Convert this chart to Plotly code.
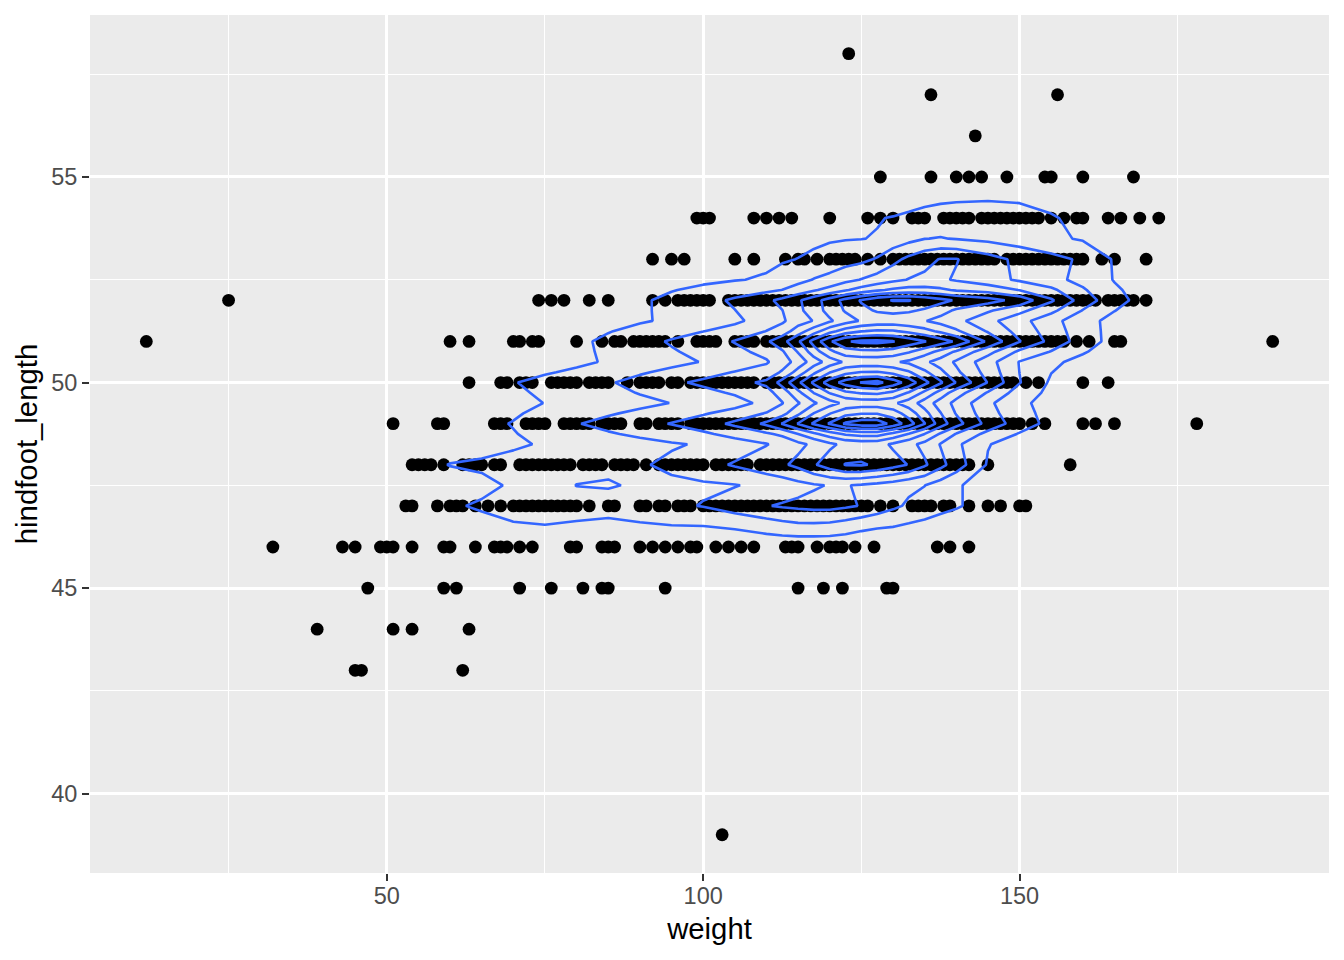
import plotly.graph_objects as go

# weights of the points, one list per hindfoot_length row
row_39 = [103]
row_43 = [45, 46, 62]
row_44 = [39, 51, 54, 63]
row_45 = [47, 59, 61, 71, 76, 81, 84, 85, 94, 115, 119, 122, 129, 130]
row_46 = [32, 43, 45, 49, 50, 51, 54, 59, 60, 64, 67, 68, 69, 71, 73, 79, 80, 84, 85, 86, 90, 92, 94, 96, 98, 99,
          102, 104, 106, 108, 113, 114, 115, 118, 120, 121, 122, 124, 127, 137, 139, 142]
row_47 = [53, 54, 58, 60, 61, 62, 64, 66, 68, 70, 71, 72, 73, 74, 75, 76, 77, 78, 79, 80, 82, 85, 86, 90, 91, 93, 94,
          96, 97, 98, 100, 101, 102, 103, 104, 105, 106, 107, 108, 109, 110, 111, 112, 113, 114, 115, 116, 117, 118,
          119, 120, 121, 122, 123, 124, 125, 126, 128, 130, 133, 134, 135, 136, 138, 139, 142, 145, 147, 150, 151]
row_48 = [54, 55, 56, 57, 59, 62, 63, 64, 65, 67, 68, 71, 72, 73, 74, 75, 76, 77, 78, 79, 81, 82, 83, 84, 86, 87, 88,
          89, 91, 93, 94, 95, 96, 97, 98, 99, 100, 102, 103, 104, 105, 106, 107, 109, 110, 111, 112, 113, 114, 115,
          116, 117, 118, 119, 120, 121, 122, 123, 124, 125, 126, 127, 128, 129, 130, 131, 132, 133, 134, 135, 136,
          137, 138, 139, 140, 141, 142, 145, 158]
row_49 = [51, 58, 59, 67, 68, 69, 72, 73, 74, 75, 78, 79, 80, 81, 82, 84, 85, 86, 87, 90, 91, 93, 94, 95, 96, 98, 99,
          100, 101, 102, 103, 104, 105, 106, 107, 108, 109, 110, 111, 112, 113, 114, 115, 116, 117, 118, 119, 120,
          121, 122, 123, 124, 125, 126, 127, 128, 129, 130, 131, 132, 133, 134, 135, 136, 137, 138, 139, 140, 141,
          142, 143, 144, 145, 146, 147, 148, 149, 150, 152, 154, 160, 162, 165, 178]
row_50 = [63, 68, 69, 71, 72, 73, 76, 77, 78, 79, 80, 82, 83, 84, 85, 88, 90, 91, 92, 93, 95, 96, 98, 99, 100, 101,
          102, 103, 104, 105, 106, 107, 108, 110, 111, 112, 113, 114, 115, 116, 117, 118, 119, 120, 121, 122, 123,
          124, 125, 126, 127, 128, 129, 130, 131, 132, 133, 134, 135, 136, 137, 138, 139, 140, 141, 142, 143, 144,
          145, 146, 147, 148, 149, 151, 153, 160, 164]
row_51 = [12, 60, 63, 70, 71, 73, 74, 80, 84, 86, 87, 89, 90, 91, 92, 93, 94, 96, 99, 100, 101, 102, 105, 106, 107,
          108, 110, 111, 112, 113, 114, 115, 116, 117, 118, 119, 120, 121, 122, 123, 124, 125, 126, 127, 128, 129,
          130, 131, 132, 133, 134, 135, 136, 137, 138, 139, 140, 141, 142, 143, 144, 145, 146, 147, 148, 149, 150,
          151, 152, 153, 154, 155, 156, 157, 159, 161, 165, 166, 190]
row_52 = [25, 74, 76, 78, 82, 85, 92, 94, 96, 97, 98, 99, 100, 101, 104, 105, 106, 107, 108, 109, 110, 111, 112, 113,
          114, 115, 116, 117, 118, 119, 120, 121, 122, 123, 124, 125, 126, 127, 128, 129, 130, 131, 132, 133, 134,
          135, 136, 137, 138, 139, 140, 141, 142, 143, 144, 145, 146, 147, 148, 149, 150, 151, 152, 153, 154, 155,
          156, 157, 158, 159, 160, 161, 162, 164, 165, 166, 167, 168, 170]
row_53 = [92, 95, 97, 105, 108, 113, 115, 116, 118, 120, 121, 122, 123, 124, 126, 128, 130, 131, 132, 133, 134, 135,
          136, 137, 138, 139, 140, 141, 142, 143, 144, 145, 146, 148, 149, 150, 151, 152, 153, 154, 155, 156, 157,
          158, 159, 160, 163, 165, 170]
row_54 = [99, 100, 101, 108, 110, 112, 114, 120, 126, 128, 130, 133, 134, 135, 138, 139, 140, 141, 142, 144, 145, 146,
          147, 148, 149, 150, 151, 152, 153, 155, 157, 159, 160, 164, 166, 169, 172]
row_55 = [128, 136, 140, 142, 144, 148, 154, 155, 160, 168]
row_56 = [143]
row_57 = [136, 156]
row_58 = [123]

hindfoot_rows = [39, 43, 44, 45, 46, 47, 48, 49, 50, 51, 52, 53, 54, 55, 56, 57, 58]
weights_by_row = [row_39, row_43, row_44, row_45, row_46, row_47, row_48, row_49, row_50, row_51, row_52, row_53,
                  row_54, row_55, row_56, row_57, row_58]

# density surface estimated from where the contours cross each row
density_weights = [55, 60, 65, 70, 75, 80, 85, 90, 95, 100, 105, 110, 112.5, 115, 117.5, 120, 122.5, 125, 127.5, 130,
                   132.5, 135, 137.5, 140, 145, 150, 155, 160, 165, 170, 175]
density_rows = [46, 46.5, 47, 47.5, 48, 48.5, 48.75, 49, 49.25, 49.5, 49.75, 50, 50.25, 50.5, 50.75, 51, 51.25, 51.5,
                51.75, 52, 52.25, 52.5, 53, 53.5, 54, 54.5, 55]
density = [
    [0, .05, .1, .2, .2, .15, .15, .2, .3, .3, .35, .3, .25, .2, .2, .2, .2, .15, .1, .1, .1, .05, .05, .05, 0, 0, 0, 0, 0, 0, 0],
    [.05, .3, .6, .88, .95, .8, .65, .85, .95, .98, 1.1, 1.4, 1.6, 1.75, 1.75, 1.7, 1.5, 1.25, 1.1, 1.02, .85, .7, .55, .4, .2, .1, .05, 0, 0, 0, 0],
    [.4, .85, 1.15, 1.4, 1.55, 1.55, 1.5, 1.6, 1.8, 2.05, 2.5, 2.95, 3.1, 3.2, 3.3, 3.3, 3.15, 2.95, 2.6, 2.2, 1.85, 1.6, 1.3, 1.1, .6, .3, .15, .05, 0, 0, 0],
    [.1, .3, .7, 1.15, 1.5, 2.02, 2.1, 1.85, 1.8, 1.85, 1.95, 2.25, 2.45, 2.7, 2.9, 3.05, 3.05, 2.9, 2.7, 2.5, 2.2, 2.02, 1.55, 1.1, .6, .3, .1, .05, 0, 0, 0],
    [.5, 1.05, 1.2, 1.35, 1.5, 1.6, 1.75, 1.9, 2.2, 2.65, 3.1, 3.6, 3.85, 4.25, 4.9, 5.5, 6.05, 6.1, 5.85, 5.4, 4.95, 4.15, 3.3, 2.5, .9, .45, .2, .1, .05, 0, 0],
    [.1, .3, .55, .85, 1.1, 1.3, 1.5, 1.7, 1.9, 2.1, 2.5, 2.95, 3.3, 3.75, 4.2, 4.8, 5.25, 5.4, 5.35, 4.85, 4.3, 3.7, 2.95, 2.2, 1.05, .55, .25, .1, .05, 0, 0],
    [.15, .4, .65, .95, 1.3, 1.62, 1.9, 2.18, 2.48, 2.82, 3.35, 3.85, 4.2, 5.0, 5.8, 6.5, 7.15, 7.4, 7.4, 6.75, 5.95, 5.0, 3.9, 2.95, 1.7, .93, .47, .25, .12, .05, .02],
    [.2, .5, .75, 1.05, 1.5, 1.95, 2.3, 2.65, 3.05, 3.55, 4.2, 5.2, 6.05, 7.05, 8.15, 9.1, 10.15, 10.6, 10.6, 9.65, 8.5, 7.05, 5.5, 4.4, 2.65, 1.5, .7, .4, .2, .1, .05],
    [.12, .35, .58, .88, 1.26, 1.6, 1.9, 2.2, 2.54, 2.9, 3.4, 4.06, 4.65, 5.8, 7.03, 7.95, 8.7, 8.95, 8.95, 8.5, 7.55, 6.35, 5.05, 3.93, 2.38, 1.32, .68, .38, .18, .08, .02],
    [.05, .2, .4, .7, 1.02, 1.25, 1.5, 1.75, 2.02, 2.25, 2.6, 3.3, 3.95, 4.9, 5.85, 6.6, 7.25, 7.4, 7.4, 7.2, 6.5, 5.55, 4.55, 3.7, 2.2, 1.2, .65, .35, .15, .05, 0],
    [.08, .25, .5, .82, 1.16, 1.4, 1.7, 2.05, 2.41, 2.72, 3.12, 3.66, 4.43, 5.73, 7.03, 8.05, 8.8, 9.1, 9.2, 8.8, 7.9, 6.75, 5.6, 4.45, 2.9, 1.54, .75, .38, .18, .08, .02],
    [.1, .3, .6, .95, 1.3, 1.55, 1.9, 2.35, 2.8, 3.2, 3.65, 4.2, 5.4, 6.8, 8.2, 9.5, 10.4, 11.05, 11.3, 10.5, 9.6, 8.3, 7.15, 5.95, 3.95, 2.05, .85, .4, .2, .1, .05],
    [.05, .18, .35, .62, .9, 1.18, 1.5, 1.88, 2.25, 2.62, 3.05, 3.42, 4.13, 5.4, 6.8, 7.95, 8.72, 9.05, 9.1, 8.75, 8.12, 7.2, 6.28, 5.2, 3.62, 1.99, 1.02, .55, .28, .12, .05],
    [0, .05, .1, .3, .5, .8, 1.1, 1.4, 1.7, 2.05, 2.45, 2.9, 3.5, 4.4, 5.5, 6.45, 7.15, 7.3, 7.3, 7.15, 6.8, 6.2, 5.55, 4.85, 3.4, 1.95, 1.2, .7, .35, .15, .05],
    [0, .05, .1, .25, .48, .8, 1.15, 1.52, 1.9, 2.3, 2.75, 3.28, 3.88, 5.08, 6.53, 7.75, 8.55, 8.75, 8.77, 8.6, 8.1, 7.45, 6.7, 5.85, 4.36, 2.8, 1.95, 1.1, .5, .22, .08],
    [0, .05, .1, .2, .45, .8, 1.2, 1.65, 2.1, 2.55, 3.05, 3.85, 4.65, 5.85, 7.4, 8.85, 9.9, 10.2, 10.25, 10.05, 9.55, 9.05, 8.5, 7.85, 5.8, 4.05, 2.7, 1.5, .65, .3, .1],
    [0, .03, .08, .15, .35, .62, .95, 1.28, 1.62, 1.98, 2.42, 3.02, 3.45, 4.5, 5.55, 6.67, 7.48, 7.95, 8.15, 8.1, 7.75, 7.35, 6.8, 6.15, 4.9, 3.63, 2.52, 1.42, .68, .32, .1],
    [0, .02, .05, .1, .25, .45, .7, .9, 1.15, 1.4, 1.8, 2.45, 2.85, 3.55, 4.05, 4.85, 5.55, 6.1, 6.35, 6.4, 6.25, 6.05, 5.65, 5.3, 4.3, 3.35, 2.35, 1.35, .7, .35, .1],
    [0, .02, .05, .1, .22, .42, .68, .88, 1.2, 1.52, 1.98, 2.6, 2.98, 3.75, 4.5, 5.35, 6.1, 6.73, 7.1, 7.25, 7.15, 6.85, 6.4, 5.83, 5.14, 4.27, 3.25, 1.95, 1.02, .48, .15],
    [0, .02, .05, .1, .2, .4, .65, .85, 1.25, 1.65, 2.15, 2.8, 3.25, 3.85, 4.6, 5.45, 6.35, 7.1, 7.75, 8.05, 8.05, 7.7, 7.3, 6.9, 6.4, 5.65, 4.15, 2.55, 1.35, .6, .2],
    [0, .01, .02, .08, .15, .3, .5, .68, .95, 1.22, 1.55, 1.78, 2.02, 2.41, 2.89, 3.34, 3.9, 4.39, 4.84, 5.17, 5.37, 5.35, 5.19, 4.89, 4.6, 3.97, 3.22, 2.12, 1.15, .55, .2],
    [0, 0, 0, .05, .1, .2, .35, .5, .65, .8, .95, 1.1, 1.4, 1.7, 2.05, 2.3, 2.7, 3.05, 3.4, 3.75, 4.05, 4.2, 4.15, 3.9, 3.4, 2.85, 2.3, 1.7, .95, .5, .2],
    [0, 0, 0, 0, .05, .1, .2, .3, .4, .5, .65, .8, .9, 1.02, 1.2, 1.4, 1.6, 1.75, 2.1, 2.7, 3.25, 3.7, 4.05, 4.05, 3.4, 2.75, 2.3, 1.85, .9, .5, .2],
    [0, 0, 0, 0, 0, 0, 0, .05, .1, .2, .3, .5, .6, .7, .8, .9, .95, .98, 1.05, 1.4, 1.7, 1.98, 2.05, 1.95, 1.75, 1.5, 1.2, .9, .6, .3, .1],
    [0, 0, 0, 0, 0, 0, 0, 0, 0, .05, .2, .3, .4, .5, .6, .7, .75, .85, .95, 1.05, 1.2, 1.35, 1.45, 1.5, 1.5, 1.4, 1.1, .7, .4, .2, .1],
    [0, 0, 0, 0, 0, 0, 0, 0, 0, 0, 0, 0, 0, .05, .1, .15, .2, .25, .3, .45, .55, .7, .8, .85, .9, .85, .65, .4, .2, .1, .05],
    [0, 0, 0, 0, 0, 0, 0, 0, 0, 0, 0, 0, 0, 0, 0, 0, 0, 0, 0, 0, 0, 0, 0, 0, 0, 0, 0, 0, 0, 0, 0],
]

x_ticks = [50, 100, 150]
x_minor = [25, 75, 125, 175]
y_ticks = [40, 45, 50, 55]
y_minor = [42.5, 47.5, 52.5, 57.5]
x_range = [3.1, 198.9]
y_range = [38.07, 58.94]

fig = go.Figure()

# points
for foot, weights in zip(hindfoot_rows, weights_by_row):
    fig.add_trace(go.Scatter(x=weights, y=[foot] * len(weights), mode="markers",
                             marker=dict(color="black", size=12.8), showlegend=False))

# contour goes on overlaid axes, otherwise plotly puts it under the points
fig.add_trace(go.Contour(x=density_weights, y=density_rows, z=density, xaxis="x2", yaxis="y2",
                         autocontour=False, contours=dict(coloring="none", start=1, end=11, size=1),
                         line=dict(color="#3366FF", width=2.6, smoothing=0), showscale=False))

fig.update_layout(
    width=1344, height=960,
    margin=dict(l=90, r=15, t=15, b=87),
    paper_bgcolor="white", plot_bgcolor="#EBEBEB",
    font=dict(family="Liberation Sans", color="black"),
    showlegend=False,
    xaxis=dict(range=x_range, tickvals=x_ticks, showgrid=True, gridcolor="white", gridwidth=2.5, zeroline=False,
               ticks="outside", ticklen=7, tickwidth=2.3, tickcolor="#333333", ticklabelstandoff=-5,
               tickfont=dict(size=23.5, color="#4D4D4D"),
               title=dict(text="weight", font=dict(size=29.3), standoff=10),
               minor=dict(tickvals=x_minor, showgrid=True, gridcolor="white", gridwidth=1.2, ticks="")),
    yaxis=dict(range=y_range, tickvals=y_ticks, showgrid=True, gridcolor="white", gridwidth=2.5, zeroline=False,
               ticks="outside", ticklen=7, tickwidth=2.3, tickcolor="#333333",
               tickfont=dict(size=23.5, color="#4D4D4D"),
               title=dict(text="hindfoot_length", font=dict(size=29.3), standoff=4),
               minor=dict(tickvals=y_minor, showgrid=True, gridcolor="white", gridwidth=1.2, ticks="")),
    xaxis2=dict(range=x_range, overlaying="x", visible=False),
    yaxis2=dict(range=y_range, overlaying="y", visible=False),
)

# page margin would push the figure 8px off
fig.write_html("out.html", config=dict(displayModeBar=False), post_script="document.body.style.margin='0';")
